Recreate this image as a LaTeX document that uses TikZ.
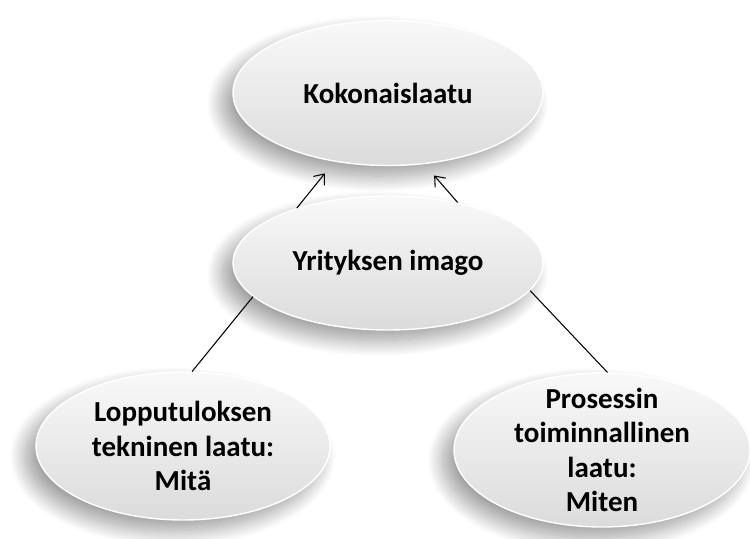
\documentclass[tikz,border=0pt]{standalone}
\usepackage{fontspec}
\setmainfont{Carlito}
\usetikzlibrary{shapes.geometric,shadows.blur,arrows.meta}
\begin{document}
\begin{tikzpicture}[x=0.02cm,y=-0.02cm,
    blob/.style={ellipse,inner sep=-10pt,align=center,draw=white,line width=0.8pt,
        top color=gray!5,bottom color=gray!28,
        blur shadow={shadow xshift=-6pt,shadow yshift=-6pt,shadow blur radius=9pt,shadow blur steps=30,shadow opacity=40},
        font=\fontsize{16.5}{19.5}\selectfont\bfseries},
    nuoli/.style={-{Straight Barb[length=5pt,width=8pt]},line width=0.6pt,shorten >=0.3cm}]
    \useasboundingbox (0,0) rectangle (750,538);
    \node[blob,minimum width=6.2cm,minimum height=2.9cm] (koko) at (388,93) {Kokonaislaatu};
    \node[blob,minimum width=6.2cm,minimum height=2.68cm] (imago) at (388,263) {Yrityksen imago};
    \node[blob,minimum width=5.88cm,minimum height=2.96cm] (mita) at (183,446) {Lopputuloksen\\tekninen laatu:\\Mitä};
    \node[blob,minimum width=5.92cm,minimum height=3.08cm] (miten) at (602,450) {Prosessin\\toiminnallinen\\laatu:\\Miten};
    \draw [nuoli] (imago.149) -- (koko.232);
    \draw [nuoli] (imago.41) -- (koko.297);
    \draw [line width=0.6pt] (imago.194) -- (mita.83);
    \draw [line width=0.6pt] (imago.349) -- (miten.86);
\end{tikzpicture}
\end{document}
